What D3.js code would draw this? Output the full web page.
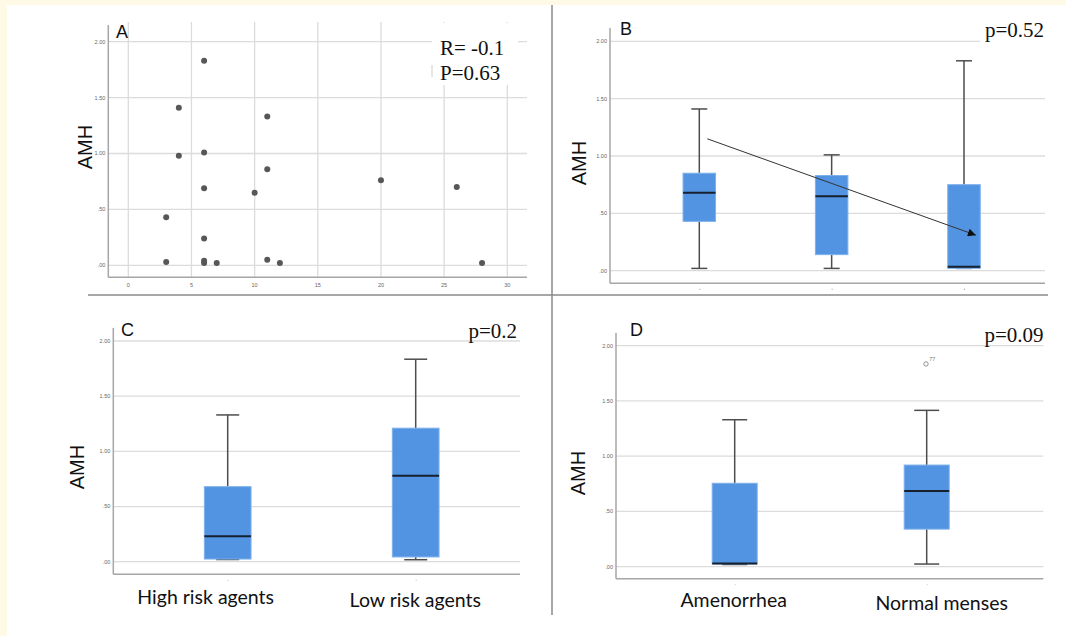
<!DOCTYPE html>
<html><head><meta charset="utf-8">
<script src="https://cdn.jsdelivr.net/npm/d3@7"></script>
<style>body{margin:0;background:#fff;} svg{display:block;}</style>
</head><body>
<svg id="c" width="1066" height="636"></svg>
<script>
// ---------------- DATA ----------------
const yTickValues = [0, 0.5, 1, 1.5, 2];
const yTickLabels = [".00", ".50", "1.00", "1.50", "2.00"];
const xTickValuesA = [0, 5, 10, 15, 20, 25, 30];
const xTickLabelsA = ["0", "5", "10", "15", "20", "25", "30"];

// Panel A scatter
const scatterX = [6, 4, 11, 6, 4, 11, 6, 10, 20, 26, 3, 6, 3, 6, 6, 7, 11, 12, 28];
const scatterY = [1.83, 1.41, 1.33, 1.01, 0.98, 0.86, 0.69, 0.65, 0.76, 0.70, 0.43, 0.24, 0.03, 0.04, 0.02, 0.02, 0.05, 0.02, 0.02];
const statsA = ["R= -0.1", "P=0.63"];

// Panel B boxplots
const bCategories = ["Group 1", "Group 2", "Group 3"];
const bMin = [0.02, 0.02, 0.02];
const bQ1 = [0.43, 0.14, 0.02];
const bMedian = [0.68, 0.65, 0.035];
const bQ3 = [0.85, 0.83, 0.75];
const bMax = [1.41, 1.01, 1.83];
const bArrowFrom = [0.06, 1.15];   // [group index, AMH]
const bArrowTo = [2.09, 0.31];
const pB = "p=0.52";

// Panel C boxplots
const cCategories = ["High risk agents", "Low risk agents"];
const cMin = [0.02, 0.018];
const cQ1 = [0.024, 0.043];
const cMedian = [0.23, 0.78];
const cQ3 = [0.68, 1.21];
const cMax = [1.33, 1.835];
const pC = "p=0.2";

// Panel D boxplots
const dCategories = ["Amenorrhea", "Normal menses"];
const dMin = [0.02, 0.024];
const dQ1 = [0.025, 0.34];
const dMedian = [0.03, 0.685];
const dQ3 = [0.755, 0.92];
const dMax = [1.33, 1.415];
const dOutlierGroup = ["Normal menses"];
const dOutlierValue = [1.835];
const dOutlierLabel = ["77"];
const pD = "p=0.09";

// ---------------- STYLE ----------------
const BOX_FILL = "#5294e2", BOX_STROKE = "#7eb1ec", MEDIAN = "#17202e";
const WHISK = "#4d4d4d", GRID = "#dcdcdc", AXIS = "#a6a6a6";
const SANS = "'Liberation Sans', Arial, sans-serif";
const SERIF = "'Liberation Serif', 'Times New Roman', serif";
const LABEL = "Lato, 'Open Sans', sans-serif";

const svg = d3.select("#c");
// background with cream edges
svg.append("rect").attr("width", 1066).attr("height", 636).attr("fill", "#fffae6");
svg.append("rect").attr("x", 7).attr("y", 5).attr("width", 1059).attr("height", 631).attr("fill", "#ffffff");

function yAxisPanel(g, y, left, right, top, bottom) {
  g.append("g").selectAll("line").data(yTickValues).join("line")
    .attr("x1", left).attr("x2", right)
    .attr("y1", d => y(d)).attr("y2", d => y(d))
    .attr("stroke", GRID).attr("stroke-width", 1.3);
  g.append("line").attr("x1", left).attr("x2", left).attr("y1", top).attr("y2", bottom)
    .attr("stroke", AXIS).attr("stroke-width", 1.5);
  g.append("line").attr("x1", left).attr("x2", right).attr("y1", bottom).attr("y2", bottom)
    .attr("stroke", AXIS).attr("stroke-width", 1.5);
  g.append("g").selectAll("text").data(yTickValues).join("text")
    .attr("x", left - 3).attr("y", d => y(d)).attr("dy", "0.35em")
    .attr("text-anchor", "end").attr("font-family", SANS).attr("font-size", 5.5)
    .attr("fill", "#666").text((d, i) => yTickLabels[i]);
}

function amhLabel(g, cx, cy) {
  g.append("text").attr("transform", `translate(${cx},${cy}) rotate(-90)`)
    .attr("text-anchor", "middle").attr("dy", "0.35em")
    .attr("font-family", SANS).attr("font-size", 20).attr("fill", "#111").text("AMH");
}

function panelLetter(g, x, y, t) {
  g.append("text").attr("x", x).attr("y", y).attr("font-family", SANS)
    .attr("font-size", 18).attr("fill", "#111").text(t);
}

function drawBoxes(g, x, y, cats, mn, q1, md, q3, mx, bw, cw) {
  const data = cats.map((c, i) => ({c, mn: mn[i], q1: q1[i], md: md[i], q3: q3[i], mx: mx[i]}));
  const gg = g.append("g").selectAll("g").data(data).join("g");
  gg.append("line").attr("x1", d => x(d.c)).attr("x2", d => x(d.c))
    .attr("y1", d => y(d.mx)).attr("y2", d => y(d.q3)).attr("stroke", WHISK).attr("stroke-width", 1.5);
  gg.append("line").attr("x1", d => x(d.c)).attr("x2", d => x(d.c))
    .attr("y1", d => y(d.q1)).attr("y2", d => y(d.mn)).attr("stroke", WHISK).attr("stroke-width", 1.5);
  gg.append("line").attr("x1", d => x(d.c) - cw / 2).attr("x2", d => x(d.c) + cw / 2)
    .attr("y1", d => y(d.mx)).attr("y2", d => y(d.mx)).attr("stroke", WHISK).attr("stroke-width", 1.5);
  gg.append("line").attr("x1", d => x(d.c) - cw / 2).attr("x2", d => x(d.c) + cw / 2)
    .attr("y1", d => y(d.mn)).attr("y2", d => y(d.mn)).attr("stroke", WHISK).attr("stroke-width", 1.5);
  gg.append("rect").attr("x", d => x(d.c) - bw / 2).attr("width", bw)
    .attr("y", d => y(d.q3)).attr("height", d => Math.max(1, y(d.q1) - y(d.q3)))
    .attr("fill", BOX_FILL).attr("stroke", BOX_STROKE).attr("stroke-width", 1);
  gg.append("line").attr("x1", d => x(d.c) - bw / 2).attr("x2", d => x(d.c) + bw / 2)
    .attr("y1", d => y(d.md)).attr("y2", d => y(d.md)).attr("stroke", MEDIAN).attr("stroke-width", 2);
  // tiny category tick marks
  g.append("g").selectAll("line").data(cats).join("line")
    .attr("x1", d => x(d)).attr("x2", d => x(d) + 1)
    .attr("y1", 0).attr("y2", 0).attr("class", "ctick");
}

// ---------------- PANEL A ----------------
{
  const g = svg.append("g");
  const left = 108.3, right = 527, top = 25, bottom = 277.3;
  const x = d3.scaleLinear().domain([0, 30]).range([128.3, 507.3]);
  const y = d3.scaleLinear().domain([0, 2]).range([265.3, 41.7]);
  g.append("g").selectAll("line").data(xTickValuesA).join("line")
    .attr("x1", d => x(d)).attr("x2", d => x(d)).attr("y1", 22).attr("y2", bottom)
    .attr("stroke", GRID).attr("stroke-width", 1.3);
  yAxisPanel(g, y, left, right, top, bottom);
  g.append("g").selectAll("text").data(xTickValuesA).join("text")
    .attr("x", d => x(d)).attr("y", bottom + 10).attr("text-anchor", "middle")
    .attr("font-family", SANS).attr("font-size", 5.5).attr("fill", "#666")
    .text((d, i) => xTickLabelsA[i]);
  g.append("g").selectAll("circle").data(scatterX.map((v, i) => [v, scatterY[i]])).join("circle")
    .attr("cx", d => x(d[0])).attr("cy", d => y(d[1])).attr("r", 3)
    .attr("fill", "#575757");
  // stats box
  g.append("rect").attr("x", 432).attr("y", 23).attr("width", 86).attr("height", 62).attr("fill", "#fff");
  g.append("line").attr("x1", 432).attr("x2", 432).attr("y1", 65).attr("y2", 77).attr("stroke", "#ccc");
  g.selectAll(".st").data(statsA).join("text").attr("class", "st")
    .attr("x", 440).attr("y", (d, i) => 55 + i * 25)
    .attr("font-family", SERIF).attr("font-size", 21).attr("fill", "#111").text(d => d);
  amhLabel(g, 85, 147);
  panelLetter(g, 116, 38, "A");
}

// ---------------- PANEL B ----------------
{
  const g = svg.append("g");
  const left = 610, right = 1045, top = 28, bottom = 283.3;
  const x = d3.scalePoint().domain(bCategories).range([699.3, 964]);
  const xi = d3.scaleLinear().domain([0, bCategories.length - 1]).range([699.3, 964]);
  const y = d3.scaleLinear().domain([0, 2]).range([270.7, 41.3]);
  yAxisPanel(g, y, left, right, top, bottom);
  drawBoxes(g, x, y, bCategories, bMin, bQ1, bMedian, bQ3, bMax, 32.5, 16);
  g.selectAll(".ctick").attr("y1", bottom + 6).attr("y2", bottom + 6).attr("stroke", "#999");
  svg.append("defs").append("marker").attr("id", "ah")
    .attr("viewBox", "0 0 10 10").attr("refX", 10).attr("refY", 5)
    .attr("markerWidth", 11).attr("markerHeight", 8).attr("markerUnits", "userSpaceOnUse")
    .attr("orient", "auto").append("path").attr("d", "M0,0L10,5L0,10Z").attr("fill", "#111");
  g.append("line").attr("x1", xi(bArrowFrom[0])).attr("y1", y(bArrowFrom[1]))
    .attr("x2", xi(bArrowTo[0])).attr("y2", y(bArrowTo[1]))
    .attr("stroke", "#333").attr("stroke-width", 1).attr("marker-end", "url(#ah)");
  g.append("rect").attr("x", 980).attr("y", 20).attr("width", 66).attr("height", 25).attr("fill", "#fff");
  g.append("text").attr("x", 1044).attr("y", 37).attr("text-anchor", "end")
    .attr("font-family", SERIF).attr("font-size", 21).attr("fill", "#111").text(pB);
  amhLabel(g, 579, 163);
  panelLetter(g, 620, 35, "B");
}

// ---------------- PANEL C ----------------
{
  const g = svg.append("g");
  const left = 113.3, right = 520, top = 328, bottom = 574.3;
  const x = d3.scalePoint().domain(cCategories).range([227.7, 415.7]);
  const y = d3.scaleLinear().domain([0, 2]).range([561.7, 341]);
  yAxisPanel(g, y, left, right, top, bottom);
  drawBoxes(g, x, y, cCategories, cMin, cQ1, cMedian, cQ3, cMax, 46.7, 23);
  g.selectAll(".ctick").attr("y1", bottom + 6).attr("y2", bottom + 6).attr("stroke", "#bbb");
  const dx = [-22, -0.4], by = [603.5, 606.5];
  g.selectAll(".cl").data(cCategories).join("text").attr("class", "cl")
    .attr("x", (d, i) => x(d) + dx[i]).attr("y", (d, i) => by[i]).attr("text-anchor", "middle")
    .attr("font-family", LABEL).attr("font-size", 19.5).attr("fill", "#111").text(d => d);
  g.append("text").attr("x", 517).attr("y", 338).attr("text-anchor", "end")
    .attr("font-family", SERIF).attr("font-size", 21).attr("fill", "#111").text(pC);
  amhLabel(g, 77, 467);
  panelLetter(g, 121, 336, "C");
}

// ---------------- PANEL D ----------------
{
  const g = svg.append("g");
  const left = 616, right = 1043.3, top = 333, bottom = 578.7;
  const x = d3.scalePoint().domain(dCategories).range([734.7, 926.7]);
  const y = d3.scaleLinear().domain([0, 2]).range([566.7, 345.7]);
  yAxisPanel(g, y, left, right, top, bottom);
  drawBoxes(g, x, y, dCategories, dMin, dQ1, dMedian, dQ3, dMax, 45, 25);
  g.selectAll(".ctick").attr("y1", bottom + 6).attr("y2", bottom + 6).attr("stroke", "#ccc");
  const outs = dOutlierGroup.map((c, i) => ({c, v: dOutlierValue[i], l: dOutlierLabel[i]}));
  g.selectAll(".oc").data(outs).join("circle").attr("class", "oc")
    .attr("cx", d => x(d.c) - 0.7).attr("cy", d => y(d.v)).attr("r", 2.2)
    .attr("fill", "none").attr("stroke", "#777").attr("stroke-width", 0.8);
  g.selectAll(".ol").data(outs).join("text").attr("class", "ol")
    .attr("x", d => x(d.c) + 2.5).attr("y", d => y(d.v) - 3)
    .attr("font-family", SANS).attr("font-size", 5.5).attr("fill", "#777").text(d => d.l);
  const dx = [-1, 15], by = [607, 609.5];
  g.selectAll(".cl").data(dCategories).join("text").attr("class", "cl")
    .attr("x", (d, i) => x(d) + dx[i]).attr("y", (d, i) => by[i]).attr("text-anchor", "middle")
    .attr("font-family", LABEL).attr("font-size", 19.5).attr("fill", "#111").text(d => d);
  g.append("text").attr("x", 1043.5).attr("y", 341.5).attr("text-anchor", "end")
    .attr("font-family", SERIF).attr("font-size", 21).attr("fill", "#111").text(pD);
  amhLabel(g, 578, 473);
  panelLetter(g, 630, 336, "D");
}

// ---------------- SEPARATORS ----------------
svg.append("line").attr("x1", 88).attr("x2", 1048).attr("y1", 295).attr("y2", 295)
  .attr("stroke", "#8a8a8a").attr("stroke-width", 1.5);
svg.append("line").attr("x1", 552).attr("x2", 552).attr("y1", 5).attr("y2", 615)
  .attr("stroke", "#8a8a8a").attr("stroke-width", 1.5);
</script>
</body></html>
